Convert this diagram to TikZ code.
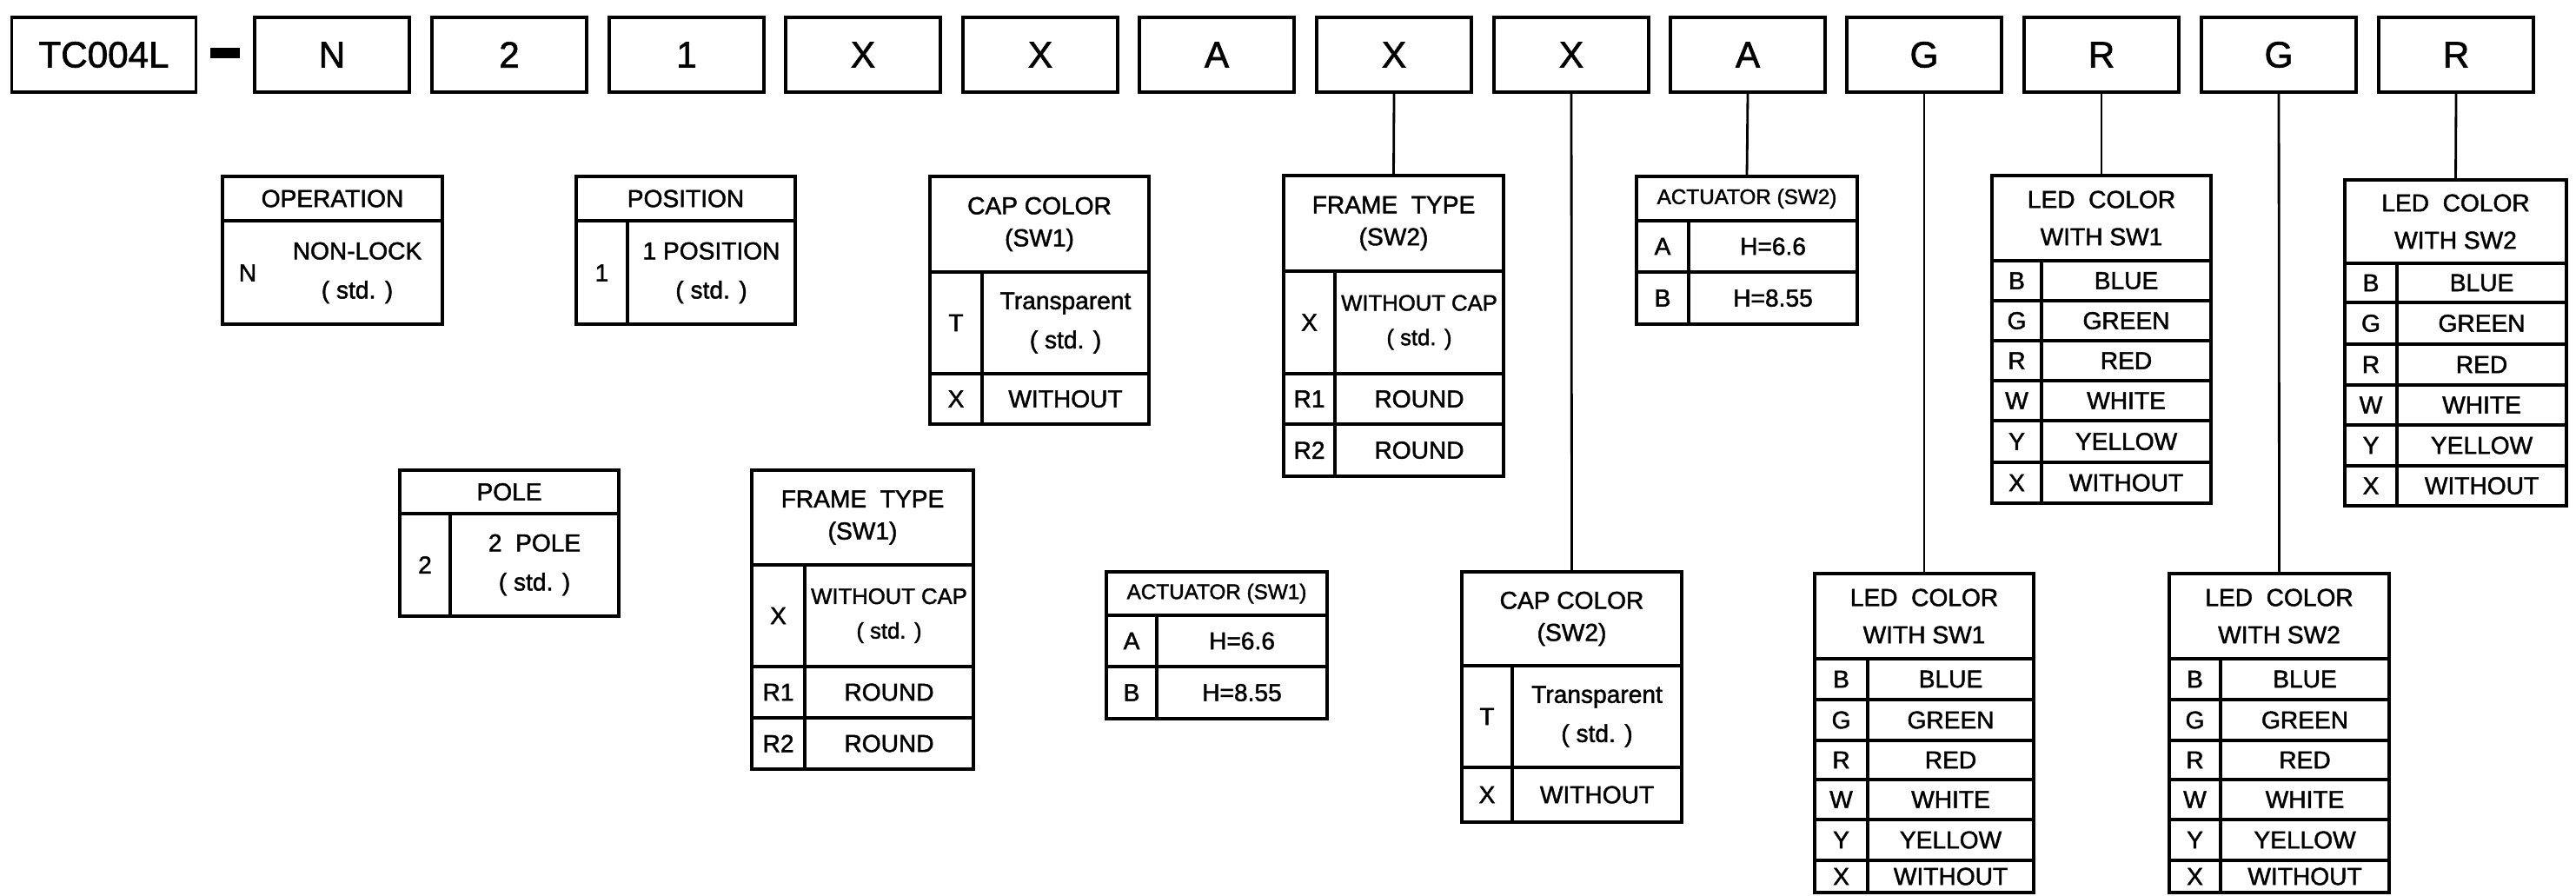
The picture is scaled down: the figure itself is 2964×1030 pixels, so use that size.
\documentclass[tikz,border=0pt]{standalone}
\usepackage{fontspec}
\setmainfont{Liberation Sans}[BoldFont=Liberation Sans, BoldFeatures={FakeBold=1.6}]
\usepackage{tikz}
\pgfdeclarelayer{edgelayer}
\pgfdeclarelayer{nodelayer}
\pgfsetlayers{edgelayer,nodelayer,main}
\tikzstyle{codebox}=[draw=black, line width=1pt, minimum width=1.78cm, minimum height=0.86cm, inner sep=0pt, font=\fontsize{12}{14}\selectfont\bfseries]
\tikzstyle{tablebox}=[draw=black, line width=1pt, inner sep=0pt]
\tikzstyle{rulerline}=[draw=black, line width=1pt]
\tikzstyle{link}=[draw=black, line width=0.8pt]
\tikzstyle{tabhead}=[inner sep=0pt, align=center, font=\fontsize{8}{10.5}\selectfont\bfseries]
\tikzstyle{ledhead}=[inner sep=0pt, align=center, font=\fontsize{8}{12.2}\selectfont\bfseries]
\tikzstyle{acthead}=[inner sep=0pt, font=\fontsize{6.9}{8}\selectfont\bfseries]
\tikzstyle{tabcell}=[inner sep=0pt, align=center, font=\fontsize{8}{12.8}\selectfont\bfseries]
\tikzstyle{smallcell}=[inner sep=0pt, align=center, font=\fontsize{7.3}{11.3}\selectfont\bfseries]

\begin{document}
\begin{tikzpicture}[x=0.01cm, y=-0.01cm]
	\useasboundingbox (0, 0) rectangle (2964, 1030);
	\begin{pgfonlayer}{nodelayer}
		% part number
		\node [style=codebox, minimum width=2.12cm] (0) at (119.5, 63) {TC004L};
		\node [fill=black, minimum width=0.34cm, minimum height=0.12cm, inner sep=0pt] (dash) at (259, 61) {};
		\node [style=codebox] (1) at (382, 63) {N};
		\node [style=codebox] (2) at (586, 63) {2};
		\node [style=codebox] (3) at (790, 63) {1};
		\node [style=codebox] (4) at (993, 63) {X};
		\node [style=codebox] (5) at (1197, 63) {X};
		\node [style=codebox] (6) at (1400, 63) {A};
		\node [style=codebox] (7) at (1604, 63) {X};
		\node [style=codebox] (8) at (1808, 63) {X};
		\node [style=codebox] (9) at (2011, 63) {A};
		\node [style=codebox] (10) at (2214, 63) {G};
		\node [style=codebox] (11) at (2418, 63) {R};
		\node [style=codebox] (12) at (2622, 63) {G};
		\node [style=codebox] (13) at (2826, 63) {R};

		% operation
		\node [style=tablebox, minimum width=2.53cm, minimum height=1.70cm] (op) at (382.5, 288) {};
		\node [style=tabhead] (op0) at (382.5, 228.5) {OPERATION};
		\node [style=tabcell] (op1) at (285, 314) {N};
		\node [style=tabcell] (op2) at (411, 314) {NON-LOCK\\( std. )};

		% position
		\node [style=tablebox, minimum width=2.52cm, minimum height=1.70cm] (pos) at (789, 288) {};
		\node [style=tabhead] (pos0) at (789, 228.5) {POSITION};
		\node [style=tabcell] (pos1) at (692.5, 314) {1};
		\node [style=tabcell] (pos2) at (818.5, 314) {1 POSITION\\( std. )};

		% pole
		\node [style=tablebox, minimum width=2.52cm, minimum height=1.68cm] (pole) at (586, 625) {};
		\node [style=tabhead] (pole0) at (586, 566) {POLE};
		\node [style=tabcell] (pole1) at (489, 650) {2};
		\node [style=tabcell] (pole2) at (615, 650) {2~ POLE\\( std. )};

		% cap color sw1
		\node [style=tablebox, minimum width=2.52cm, minimum height=2.85cm] (capa) at (1196, 345.5) {};
		\node [style=tabhead] (capa0) at (1196, 258) {CAP COLOR\\(SW1)};
		\node [style=tabcell] (capa1) at (1100, 371.5) {T};
		\node [style=tabcell] (capa2) at (1226, 371.5) {Transparent\\( std. )};
		\node [style=tabcell] (capa3) at (1100, 459) {X};
		\node [style=tabcell] (capa4) at (1226, 459) {WITHOUT};

		% frame type sw1
		\node [style=tablebox, minimum width=2.55cm, minimum height=3.44cm] (framea) at (992.5, 713) {};
		\node [style=tabhead] (framea0) at (992.5, 595.5) {FRAME~ TYPE\\(SW1)};
		\node [style=tabcell] (framea1) at (895.5, 708.5) {X};
		\node [style=smallcell] (framea2) at (1023, 708.5) {WITHOUT CAP\\( std. )};
		\node [style=tabcell] (framea3) at (895.5, 796.5) {R1};
		\node [style=tabcell] (framea4) at (1023, 796.5) {ROUND};
		\node [style=tabcell] (framea5) at (895.5, 855.5) {R2};
		\node [style=tabcell] (framea6) at (1023, 855.5) {ROUND};

		% actuator sw1
		\node [style=tablebox, minimum width=2.54cm, minimum height=1.69cm] (acta) at (1400, 742.5) {};
		\node [style=acthead] (acta0) at (1400, 683) {ACTUATOR (SW1)};
		\node [style=tabcell] (acta1) at (1302, 737.5) {A};
		\node [style=tabcell] (acta2) at (1429, 737.5) {H=6.6};
		\node [style=tabcell] (acta3) at (1302, 797) {B};
		\node [style=tabcell] (acta4) at (1429, 797) {H=8.55};

		% frame type sw2
		\node [style=tablebox, minimum width=2.53cm, minimum height=3.46cm] (frameb) at (1603.5, 375) {};
		\node [style=tabhead] (frameb0) at (1603.5, 257) {FRAME~ TYPE\\(SW2)};
		\node [style=tabcell] (frameb1) at (1506.5, 371) {X};
		\node [style=smallcell] (frameb2) at (1633, 371) {WITHOUT CAP\\( std. )};
		\node [style=tabcell] (frameb3) at (1506.5, 459) {R1};
		\node [style=tabcell] (frameb4) at (1633, 459) {ROUND};
		\node [style=tabcell] (frameb5) at (1506.5, 518) {R2};
		\node [style=tabcell] (frameb6) at (1633, 518) {ROUND};

		% cap color sw2
		\node [style=tablebox, minimum width=2.53cm, minimum height=2.88cm] (capb) at (1808.5, 802) {};
		\node [style=tabhead] (capb0) at (1808.5, 712) {CAP COLOR\\(SW2)};
		\node [style=tabcell] (capb1) at (1711, 824.5) {T};
		\node [style=tabcell] (capb2) at (1837.5, 824.5) {Transparent\\( std. )};
		\node [style=tabcell] (capb3) at (1711, 914.5) {X};
		\node [style=tabcell] (capb4) at (1837.5, 914.5) {WITHOUT};

		% actuator sw2
		\node [style=tablebox, minimum width=2.54cm, minimum height=1.70cm] (actb) at (2010, 288) {};
		\node [style=acthead] (actb0) at (2010, 228.5) {ACTUATOR (SW2)};
		\node [style=tabcell] (actb1) at (1913, 283.5) {A};
		\node [style=tabcell] (actb2) at (2040, 283.5) {H=6.6};
		\node [style=tabcell] (actb3) at (1913, 343) {B};
		\node [style=tabcell] (actb4) at (2040, 343) {H=8.55};

		% led color with sw1 (upper)
		\node [style=tablebox, minimum width=2.52cm, minimum height=3.77cm] (leda) at (2418, 390.5) {};
		\node [style=ledhead] (leda0) at (2418, 251) {LED~ COLOR\\WITH SW1};
		\node [style=tabcell] (leda1) at (2320.5, 323) {B};
		\node [style=tabcell] (leda2) at (2446.5, 323) {BLUE};
		\node [style=tabcell] (leda3) at (2320.5, 369) {G};
		\node [style=tabcell] (leda4) at (2446.5, 369) {GREEN};
		\node [style=tabcell] (leda5) at (2320.5, 415) {R};
		\node [style=tabcell] (leda6) at (2446.5, 415) {RED};
		\node [style=tabcell] (leda7) at (2320.5, 461) {W};
		\node [style=tabcell] (leda8) at (2446.5, 461) {WHITE};
		\node [style=tabcell] (leda9) at (2320.5, 508) {Y};
		\node [style=tabcell] (leda10) at (2446.5, 508) {YELLOW};
		\node [style=tabcell] (leda11) at (2320.5, 555.5) {X};
		\node [style=tabcell] (leda12) at (2446.5, 555.5) {WITHOUT};

		% led color with sw2 (upper)
		\node [style=tablebox, minimum width=2.55cm, minimum height=3.75cm] (ledb) at (2825.5, 394.5) {};
		\node [style=ledhead] (ledb0) at (2825.5, 255) {LED~ COLOR\\WITH SW2};
		\node [style=tabcell] (ledb1) at (2728, 325.5) {B};
		\node [style=tabcell] (ledb2) at (2855.5, 325.5) {BLUE};
		\node [style=tabcell] (ledb3) at (2728, 372) {G};
		\node [style=tabcell] (ledb4) at (2855.5, 372) {GREEN};
		\node [style=tabcell] (ledb5) at (2728, 419.5) {R};
		\node [style=tabcell] (ledb6) at (2855.5, 419.5) {RED};
		\node [style=tabcell] (ledb7) at (2728, 466) {W};
		\node [style=tabcell] (ledb8) at (2855.5, 466) {WHITE};
		\node [style=tabcell] (ledb9) at (2728, 512.5) {Y};
		\node [style=tabcell] (ledb10) at (2855.5, 512.5) {YELLOW};
		\node [style=tabcell] (ledb11) at (2728, 559) {X};
		\node [style=tabcell] (ledb12) at (2855.5, 559) {WITHOUT};

		% led color with sw1 (lower)
		\node [style=tablebox, minimum width=2.52cm, minimum height=3.67cm] (ledc) at (2214, 843.5) {};
		\node [style=ledhead] (ledc0) at (2214, 709) {LED~ COLOR\\WITH SW1};
		\node [style=tabcell] (ledc1) at (2118.5, 781.5) {B};
		\node [style=tabcell] (ledc2) at (2244.5, 781.5) {BLUE};
		\node [style=tabcell] (ledc3) at (2118.5, 828.5) {G};
		\node [style=tabcell] (ledc4) at (2244.5, 828.5) {GREEN};
		\node [style=tabcell] (ledc5) at (2118.5, 874.5) {R};
		\node [style=tabcell] (ledc6) at (2244.5, 874.5) {RED};
		\node [style=tabcell] (ledc7) at (2118.5, 920) {W};
		\node [style=tabcell] (ledc8) at (2244.5, 920) {WHITE};
		\node [style=tabcell] (ledc9) at (2118.5, 966.5) {Y};
		\node [style=tabcell] (ledc10) at (2244.5, 966.5) {YELLOW};
		\node [style=tabcell] (ledc11) at (2118.5, 1008.5) {X};
		\node [style=tabcell] (ledc12) at (2244.5, 1008.5) {WITHOUT};

		% led color with sw2 (lower)
		\node [style=tablebox, minimum width=2.53cm, minimum height=3.67cm] (ledd) at (2622.5, 843.5) {};
		\node [style=ledhead] (ledd0) at (2622.5, 709) {LED~ COLOR\\WITH SW2};
		\node [style=tabcell] (ledd1) at (2525.5, 781.5) {B};
		\node [style=tabcell] (ledd2) at (2652, 781.5) {BLUE};
		\node [style=tabcell] (ledd3) at (2525.5, 828.5) {G};
		\node [style=tabcell] (ledd4) at (2652, 828.5) {GREEN};
		\node [style=tabcell] (ledd5) at (2525.5, 874.5) {R};
		\node [style=tabcell] (ledd6) at (2652, 874.5) {RED};
		\node [style=tabcell] (ledd7) at (2525.5, 920) {W};
		\node [style=tabcell] (ledd8) at (2652, 920) {WHITE};
		\node [style=tabcell] (ledd9) at (2525.5, 966.5) {Y};
		\node [style=tabcell] (ledd10) at (2652, 966.5) {YELLOW};
		\node [style=tabcell] (ledd11) at (2525.5, 1008.5) {X};
		\node [style=tabcell] (ledd12) at (2652, 1008.5) {WITHOUT};
	\end{pgfonlayer}
	\begin{pgfonlayer}{edgelayer}
		% table rules
		\draw [style=rulerline] (256, 254) -- (509, 254);
		\draw [style=rulerline] (663, 254) -- (915, 254);
		\draw [style=rulerline] (722, 254) -- (722, 373);
		\draw [style=rulerline] (460, 591) -- (712, 591);
		\draw [style=rulerline] (518, 591) -- (518, 709);
		\draw [style=rulerline] (1070, 313) -- (1322, 313);
		\draw [style=rulerline] (1070, 430) -- (1322, 430);
		\draw [style=rulerline] (1130, 313) -- (1130, 488);
		\draw [style=rulerline] (865, 650) -- (1120, 650);
		\draw [style=rulerline] (865, 767) -- (1120, 767);
		\draw [style=rulerline] (865, 826) -- (1120, 826);
		\draw [style=rulerline] (926, 650) -- (926, 885);
		\draw [style=rulerline] (1273, 708) -- (1527, 708);
		\draw [style=rulerline] (1273, 767) -- (1527, 767);
		\draw [style=rulerline] (1331, 708) -- (1331, 827);
		\draw [style=rulerline] (1477, 312) -- (1730, 312);
		\draw [style=rulerline] (1477, 430) -- (1730, 430);
		\draw [style=rulerline] (1477, 488) -- (1730, 488);
		\draw [style=rulerline] (1536, 312) -- (1536, 548);
		\draw [style=rulerline] (1682, 766) -- (1935, 766);
		\draw [style=rulerline] (1682, 883) -- (1935, 883);
		\draw [style=rulerline] (1740, 766) -- (1740, 946);
		\draw [style=rulerline] (1883, 254) -- (2137, 254);
		\draw [style=rulerline] (1883, 313) -- (2137, 313);
		\draw [style=rulerline] (1943, 254) -- (1943, 373);
		\draw [style=rulerline] (2292, 300) -- (2544, 300);
		\draw [style=rulerline] (2292, 346) -- (2544, 346);
		\draw [style=rulerline] (2292, 392) -- (2544, 392);
		\draw [style=rulerline] (2292, 438) -- (2544, 438);
		\draw [style=rulerline] (2292, 484) -- (2544, 484);
		\draw [style=rulerline] (2292, 532) -- (2544, 532);
		\draw [style=rulerline] (2349, 300) -- (2349, 579);
		\draw [style=rulerline] (2698, 303) -- (2953, 303);
		\draw [style=rulerline] (2698, 348) -- (2953, 348);
		\draw [style=rulerline] (2698, 396) -- (2953, 396);
		\draw [style=rulerline] (2698, 443) -- (2953, 443);
		\draw [style=rulerline] (2698, 489) -- (2953, 489);
		\draw [style=rulerline] (2698, 536) -- (2953, 536);
		\draw [style=rulerline] (2758, 303) -- (2758, 582);
		\draw [style=rulerline] (2088, 758) -- (2340, 758);
		\draw [style=rulerline] (2088, 805) -- (2340, 805);
		\draw [style=rulerline] (2088, 852) -- (2340, 852);
		\draw [style=rulerline] (2088, 897) -- (2340, 897);
		\draw [style=rulerline] (2088, 943) -- (2340, 943);
		\draw [style=rulerline] (2088, 990) -- (2340, 990);
		\draw [style=rulerline] (2149, 758) -- (2149, 1027);
		\draw [style=rulerline] (2496, 758) -- (2749, 758);
		\draw [style=rulerline] (2496, 805) -- (2749, 805);
		\draw [style=rulerline] (2496, 852) -- (2749, 852);
		\draw [style=rulerline] (2496, 897) -- (2749, 897);
		\draw [style=rulerline] (2496, 943) -- (2749, 943);
		\draw [style=rulerline] (2496, 990) -- (2749, 990);
		\draw [style=rulerline] (2555, 758) -- (2555, 1027);
		% code to table
		\draw [style=link] (7.south) to (frameb.north);
		\draw [style=link] (8.south) to (capb.north);
		\draw [style=link] (9.south) to (actb.north);
		\draw [style=link] (10.south) to (ledc.north);
		\draw [style=link] (11.south) to (leda.north);
		\draw [style=link] (12.south) to (ledd.north);
		\draw [style=link] (13.south) to (ledb.north);
	\end{pgfonlayer}
\end{tikzpicture}
\end{document}
